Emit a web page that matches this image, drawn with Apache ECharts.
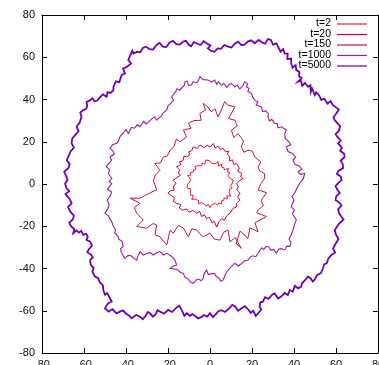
<!DOCTYPE html>
<html><head><meta charset="utf-8">
<script src="https://cdn.jsdelivr.net/npm/echarts@6/dist/echarts.min.js"></script>
<style>html,body{margin:0;padding:0;background:#fff}#c{width:379px;height:365px}</style>
</head><body><div id="c"></div>
<script>
const seriesNames = ['t=2','t=20','t=150','t=1000','t=5000'];
const seriesColors = ['#f41838','#c80040','#c01060','#a01ca4','#7000b4'];

const t2Pts = [[10.5,0],[9.7,0.8],[11.0,1.9],[9.6,2.6],[9.4,3.4],[8.6,4.0],[9.4,5.4],[8.2,5.7],[8.8,7.4],[6.8,6.8],[6.6,7.8],[5.6,8.0],[5.5,9.4],[4.0,8.5],[3.9,10.6],[2.6,9.6],[1.8,10.2],[0.8,9.7],[0,10.9],[-0.9,10.1],[-2.0,11.4],[-2.5,9.3],[-3.6,10.0],[-4.0,8.6],[-5.1,8.7],[-5.7,8.1],[-7.1,8.4],[-6.8,6.8],[-7.9,6.6],[-8.0,5.6],[-9.4,5.4],[-9.1,4.2],[-10.7,3.9],[-9.2,2.5],[-10.0,1.8],[-9.7,0.8],[-10.7,0],[-9.9,-0.9],[-10.9,-1.9],[-9.1,-2.4],[-9.4,-3.4],[-8.9,-4.1],[-9.2,-5.3],[-7.9,-5.5],[-8.7,-7.3],[-7.1,-7.1],[-6.7,-8.0],[-5.5,-7.8],[-5.5,-9.4],[-4.1,-8.8],[-3.5,-9.5],[-2.6,-9.6],[-1.9,-10.6],[-0.8,-9.6],[0,-11.2],[0.9,-9.8],[1.8,-10.1],[2.5,-9.2],[3.6,-10.0],[4.2,-9.0],[5.5,-9.5],[5.6,-7.9],[6.6,-7.8],[6.6,-6.6],[8.3,-7.0],[8.0,-5.6],[9.9,-5.7],[9.1,-4.2],[9.9,-3.6],[9.3,-2.5],[10.6,-1.9],[9.8,-0.9],[10.5,0]];

const t20Pts = [[14.3,1.8],[15.8,2.6],[14.6,3.4],[15.1,5.0],[13.2,6.0],[14.0,7.5],[12.7,9.7],[11.2,9.3],[10.8,11.4],[9.2,11.0],[9.5,12.8],[8.3,14.2],[9.0,15.6],[7.4,15.2],[6.2,17.0],[5.0,16.2],[3.8,17.9],[2.5,17.0],[1.6,19.2],[0.2,17.6],[-1.5,18.3],[-2.8,17.2],[-4.8,18.4],[-6.1,16.8],[-8.0,17.6],[-8.6,15.8],[-10.2,15.2],[-9.5,13.9],[-11.1,12.8],[-12.4,13.2],[-12.9,11.0],[-14.6,10.5],[-13.8,9.2],[-15.9,8.1],[-14.4,6.6],[-15.2,5.2],[-14.0,4.2],[-15.8,3.0],[-17.6,1.8],[-16.2,0.4],[-17.5,-1.4],[-17.0,-2.9],[-19.0,-3.2],[-20.0,-4.4],[-18.2,-5.6],[-17.0,-6.5],[-17.4,-8.2],[-15.9,-9.1],[-14.0,-9.8],[-14.6,-11.4],[-12.9,-12.4],[-11.2,-11.8],[-10.0,-13.4],[-8.2,-12.6],[-6.3,-13.8],[-4.9,-13.0],[-4.0,-15.4],[-2.6,-14.6],[-1.6,-16.3],[-0.2,-15.8],[1.0,-18.5],[2.0,-17.6],[3.2,-20.4],[4.2,-18.0],[5.6,-16.3],[6.8,-17.2],[8.0,-15.0],[9.5,-13.8],[10.4,-14.6],[11.0,-11.5],[12.4,-11.0],[12.7,-9.1],[14.3,-7.7],[13.2,-6.2],[14.3,-4.4],[12.7,-2.8],[13.5,-1.4],[12.7,0.2],[14.3,1.8]];

const t150Pts = [[24.4,0.4],[26.0,2.6],[26,5],[23.6,6.2],[22.9,8.1],[24.2,10.4],[21.3,12.8],[20.2,15.6],[18.1,16],[16.2,15.0],[14.9,17.6],[16.0,20.4],[13.3,23.9],[11.4,22.0],[10.2,25.5],[13.0,27.6],[11.8,30.2],[8.8,31.0],[10.2,33.4],[11.8,36.5],[8.6,37.3],[7.0,39.0],[5.4,35],[3.8,31.8],[2.4,35.6],[0.6,34.2],[-1,36.5],[-3.2,38.2],[-2.2,35.0],[-4.8,33.4],[-4.2,30.2],[-7.6,30.0],[-10.3,28.7],[-9.0,26.4],[-12.7,25.5],[-11.1,22.3],[-14.3,20],[-16.0,21.2],[-17.2,17.6],[-19,16],[-20.4,13.2],[-22.2,12.8],[-23.6,10.0],[-26.2,9.7],[-23.8,6.5],[-26.0,4.2],[-27,1.7],[-25.4,-2.8],[-28.6,-4.2],[-33.3,-6.7],[-38.1,-6.7],[-33.3,-9.1],[-36.0,-11.2],[-34.9,-13.8],[-31.8,-17],[-34.9,-20.1],[-30.2,-20.9],[-27,-18.7],[-25.4,-19.4],[-26.2,-24.1],[-23.8,-25],[-20.6,-28.9],[-19,-21.9],[-17.5,-23.3],[-15.0,-19.6],[-12.7,-20.9],[-10.3,-24.9],[-8.6,-21.2],[-6.3,-21.8],[-4.8,-23.6],[-3.2,-24.9],[0,-23.3],[2.0,-26.0],[4.8,-26.6],[6.4,-23.0],[8.6,-21.8],[9.5,-27.4],[12.0,-25.4],[14.9,-30.5],[12.5,-28.1],[14.3,-22.3],[18.1,-25.7],[19,-20.7],[22.9,-22.6],[21.4,-18.4],[25.2,-16.3],[26.8,-15.4],[22.2,-13.6],[22.9,-12.3],[25.4,-10.2],[24.4,-7.6],[27,-4.1],[22.9,-2.8],[24.4,0.4]];

const t1000Pts = [[42.7,0.4],[44.4,2.4],[45.1,5],[43.2,4.6],[41.9,5.7],[43.8,7.0],[42.6,8.4],[40.4,9.4],[39.5,11.3],[40.8,12.8],[39.0,14.6],[37.2,15.4],[36.3,17.6],[38.4,18.6],[37.4,20.2],[35.8,21.6],[35.6,23.9],[36.4,25.6],[34,27.1],[32.4,26.6],[32.0,28.6],[30.8,28.7],[29.4,30.6],[28.4,29.8],[27.6,31.8],[27.8,33.4],[26.4,34.6],[25.0,34.4],[24.4,36.5],[22.0,37.4],[22.8,38.8],[21.3,39.7],[20.4,41.0],[19.7,42.9],[18.0,43.8],[18.6,45.2],[17.3,46],[18.0,47.4],[16.5,48.4],[15.6,46.4],[14.2,45.0],[13.0,46.8],[11.8,46],[10.2,47.6],[9.0,47.0],[8.0,45.8],[6.6,47.6],[5.4,46.8],[4.0,48.4],[3.2,47.2],[2.2,49.2],[0.6,48.2],[-1,49.2],[-1.6,50],[-3.2,49.4],[-4.8,50.8],[-5.4,49.2],[-6.2,48.0],[-8,48.4],[-8.8,47.0],[-10.2,46.6],[-10.8,48.6],[-11.9,48.4],[-12.2,46.8],[-13.0,46.0],[-14.3,44.5],[-15.8,45.0],[-16.4,43.6],[-18.2,41.3],[-17.4,39.6],[-18.8,38.0],[-20.0,37.0],[-20.6,35],[-22.4,33.6],[-23.0,32.4],[-25.4,30.2],[-26.4,31.8],[-28.0,30.6],[-29.4,29.2],[-30.4,28.4],[-31.6,29.6],[-33.3,27.1],[-34.6,28.0],[-36.0,26.4],[-37.4,26.8],[-38.9,23.9],[-40.0,25.8],[-41.0,24.6],[-42.9,22.3],[-43.4,20.8],[-44.2,19.4],[-46.4,18.6],[-47.6,16.8],[-46.2,15.6],[-45.6,14.2],[-47.6,12.8],[-46.8,11.3],[-48.2,9.8],[-49.4,8.2],[-47.8,6.8],[-48.4,5],[-46.8,2.6],[-48.0,1.2],[-46.8,0.2],[-48.8,-2.4],[-46.8,-3.8],[-47.6,-5.9],[-49.0,-7.6],[-48.0,-9.6],[-48.6,-11.6],[-50,-13.8],[-48.2,-15.2],[-47.8,-16.4],[-46.8,-17.8],[-46.2,-19.6],[-45.0,-21.8],[-45.4,-23.2],[-43.7,-24.9],[-43.4,-26.2],[-42.0,-27.0],[-41.3,-29.6],[-42.6,-30.6],[-42.2,-32.4],[-40.5,-35.2],[-39.0,-33.8],[-37.6,-34.0],[-36.2,-35.2],[-34.9,-36],[-34.2,-33.8],[-33.3,-32],[-31.8,-33.6],[-30.4,-33.0],[-28.6,-32.4],[-27,-33.6],[-25.4,-32.6],[-23.8,-32.0],[-22.2,-33.6],[-20.6,-32.8],[-18.4,-34.2],[-17.6,-35.0],[-16.7,-36],[-15.9,-38.3],[-17.4,-38.8],[-19,-39.9],[-17.0,-40.2],[-15.4,-40.6],[-14.2,-41.8],[-12.7,-42.3],[-12.0,-44.0],[-10.6,-44.8],[-9.4,-46.4],[-7.9,-47],[-6.6,-45.4],[-5.4,-45.0],[-4.2,-45.8],[-3.2,-44.6],[-2.8,-42.4],[-1.6,-40.7],[-0.8,-42.8],[0,-42.3],[2.2,-42.3],[3.0,-43.8],[4.0,-44.2],[5.2,-46.0],[6.2,-45.5],[7.4,-42.6],[8.6,-40.7],[10.0,-39.4],[10.8,-40.0],[11.8,-37.5],[13.4,-38.8],[14.6,-38.0],[16.4,-36.4],[18.1,-36],[19.2,-34.6],[20.2,-34.0],[21.8,-34.4],[22.9,-32.8],[24.6,-30.2],[25.6,-31.0],[26.8,-29.6],[28.0,-29.8],[29.0,-31.4],[30.4,-31.0],[31.6,-32.8],[32.8,-30.8],[33.8,-30.6],[35.6,-31.2],[36.6,-29.4],[38,-29.6],[38.6,-27.6],[37.6,-26.0],[38.8,-23.8],[39.5,-21.8],[40.2,-19.4],[41.1,-17],[40.0,-15.4],[39.2,-14.0],[40.2,-12.4],[38.7,-10.7],[39.4,-9.0],[40.0,-7.6],[39.0,-5.8],[40.3,-4.4],[41.4,-2.0],[42.7,0.4]];

const t5000Pts = [[61,0.4],[62.6,1.8],[62.3,3.5],[60.4,4.8],[61.2,6.2],[63.4,7.6],[63.2,9.4],[62.2,11.0],[64.1,12.8],[63.8,14.4],[62.0,15.6],[62.8,17.2],[61,19.2],[62.2,20.6],[60.6,22.4],[59.8,23.6],[61.3,25.0],[62.0,27.4],[59.4,30.2],[58.8,31.6],[60.2,33.5],[61.4,35.2],[58.6,37.3],[57.4,39.2],[56.0,38.0],[54.4,40.4],[53,39.7],[52.0,41.9],[51.2,41.6],[50.6,43.4],[49.9,42.1],[48.6,45.2],[48.0,43.6],[47.8,46.8],[46.7,46],[45.2,47.9],[44.0,46.5],[43.2,49.0],[41.9,48.4],[43.6,50.2],[42.4,51.0],[42.6,53.0],[41.1,53.9],[40.8,56.2],[39.3,55.0],[38.7,57.1],[38.6,59.4],[36.8,59.2],[37.0,61.6],[35.6,61.8],[34.8,63.8],[33.6,62.6],[32.4,65],[31.6,66.6],[30.0,66.0],[29.0,68.2],[27.6,68.6],[26.2,66.4],[24.8,67.0],[23.2,68.2],[21.3,66.6],[19.6,68.0],[18.0,67.4],[16.4,66.0],[14.9,65.8],[13.4,67.4],[11.8,66.4],[10.2,64.6],[8.6,65],[6.8,65.8],[5.2,64.0],[3.6,64.2],[2.2,62.6],[0.6,63.0],[-1,64.2],[0.2,65.6],[-1.6,66.6],[-3.0,67.6],[-4.5,65.8],[-6.0,66.4],[-7.6,67.2],[-9.0,65.2],[-10.2,66.0],[-11.4,67.8],[-12.7,67.4],[-14.4,66.0],[-16.0,66.2],[-17.6,67.8],[-19.2,67.0],[-20.8,64.8],[-22.4,65.0],[-24.0,66.8],[-25.4,65.8],[-27.2,63.6],[-28.8,63.8],[-30.4,65.0],[-32.0,64.4],[-33.2,62.4],[-34.6,62.6],[-36.5,61.8],[-37.0,63.0],[-38.9,58.7],[-37.6,57.0],[-39.4,55.6],[-41.4,54.6],[-40.5,52.4],[-42.0,51.6],[-42.6,50.0],[-43.2,48.2],[-44.0,47.4],[-44.8,48.6],[-46,46],[-46.0,44.4],[-47.2,43.2],[-48.8,43.4],[-49.2,41.3],[-51.0,42.4],[-52.6,40.8],[-53.8,39.4],[-55.0,39.2],[-56.0,40.6],[-57.1,39.7],[-58.8,38.8],[-58.4,37.0],[-59.0,35.6],[-60.3,35],[-61.8,33.8],[-61.2,31.8],[-62.0,29.2],[-63.5,27.1],[-62.6,25.0],[-64.0,23.4],[-65.6,21.6],[-65.9,19.2],[-64.8,17.2],[-66.4,15.4],[-67.2,13.6],[-68.2,11.3],[-66.8,9.4],[-67.4,7.6],[-69.4,5.8],[-68.6,4.0],[-67.8,2.0],[-69,0.2],[-68.4,-1.8],[-67.0,-3.4],[-68.8,-4.8],[-67.6,-6.2],[-66.6,-7.6],[-65.9,-9.2],[-67.6,-11.0],[-66.6,-13.0],[-64.8,-15.0],[-65.4,-16.8],[-67.0,-18.4],[-66.2,-20.0],[-64.6,-21.4],[-65.1,-23.3],[-63.6,-22.0],[-62.4,-23.0],[-61.4,-22.2],[-60.3,-24.1],[-59.0,-23.6],[-58.2,-25.0],[-58.8,-26.4],[-57.1,-27.3],[-56.2,-29.2],[-57.8,-31.0],[-58.4,-32.4],[-56.6,-33.4],[-55.8,-34.8],[-57.1,-36],[-56.8,-38.2],[-55.4,-39.8],[-56.0,-41.6],[-54.8,-43.8],[-53.2,-44.6],[-52.6,-46.4],[-51.0,-48.0],[-50.8,-50.2],[-50.0,-52.4],[-49.0,-51.6],[-47.6,-54.1],[-46.8,-55.6],[-48.4,-56.4],[-49.2,-57.4],[-50,-58.9],[-48.2,-60.4],[-46.4,-59.2],[-44.6,-61.2],[-42.9,-60.4],[-41.4,-59.8],[-40.0,-61.4],[-38.6,-62.2],[-37.3,-63.6],[-35.2,-62.0],[-33.3,-62.8],[-32.0,-64.0],[-30.8,-62.6],[-29.6,-60.6],[-28.6,-61.2],[-27.2,-62.8],[-26.0,-61.8],[-25.0,-59.8],[-23.8,-60.4],[-21.8,-61.4],[-20.0,-59.6],[-18.0,-60.6],[-15.9,-58.4],[-14.6,-57.6],[-13.4,-59.8],[-12.2,-62.4],[-11.1,-61.2],[-9.6,-62.4],[-8.4,-61.6],[-7.0,-62.6],[-5.6,-63.6],[-4.2,-63.0],[-2.8,-62.0],[-1.4,-62.8],[0,-61.2],[1.4,-63.0],[2.6,-61.8],[4.0,-60.2],[5.4,-59.7],[7.2,-60.6],[9.0,-59.0],[10.6,-57.2],[12.0,-58.0],[13.4,-60.0],[14.9,-58.9],[16.6,-57.8],[18.2,-59.4],[19.4,-61.0],[20.6,-60.0],[21.8,-62.4],[22.9,-61.2],[24.4,-59.4],[23.6,-58.0],[24.0,-56.0],[25.2,-55.7],[26.2,-53.6],[27.8,-54.4],[29.6,-52.4],[30.8,-51.8],[32.4,-54.2],[34.0,-53.2],[35.6,-51.6],[37.1,-52.6],[38.0,-50.2],[39.4,-51.0],[40.4,-48.2],[41.9,-49.4],[43.4,-48.6],[43.8,-47.0],[45.6,-45.2],[46.7,-43.8],[47.8,-44.6],[49,-46.2],[50.0,-45.0],[51.0,-43.2],[52.8,-42.2],[53.8,-39.9],[54.4,-38.0],[55.6,-37.4],[56.4,-35.2],[57.8,-33.6],[59.6,-32.4],[58.6,-30.6],[59.4,-29.0],[60.1,-28.1],[61.2,-26.0],[60.0,-24.0],[59.4,-21.8],[60.6,-20.0],[61.4,-18.8],[63.6,-16.8],[62.5,-15.4],[61.4,-13.6],[61.0,-12.0],[62.6,-10.2],[61.6,-8.8],[59.8,-7.6],[60.1,-5.9],[61.8,-4.2],[60.6,-2.6],[59.8,-1.0],[61,0.4]];

const allPts = [t2Pts, t20Pts, t150Pts, t1000Pts, t5000Pts];
const lineWidths = [1, 1, 1, 1.1, 1.8];

const axisMin = -80, axisMax = 80, axisStep = 20;
const FONT = '"Liberation Sans", Arial, sans-serif';

const chart = echarts.init(document.getElementById('c'), null, {renderer: 'canvas'});
const axisCommon = {
  type: 'value', min: axisMin, max: axisMax, interval: axisStep,
  axisLine: {show: true, onZero: false, lineStyle: {color: '#000', width: 1}},
  axisTick: {show: true, inside: true, length: 5, lineStyle: {color: '#000', width: 1}},
  splitLine: {show: false},
};
const legendGraphics = [];
seriesNames.forEach((n, i) => {
  const yc = 24 + i * 10.5;
  legendGraphics.push({type: 'text', right: 379 - 331, top: yc - 6,
    style: {text: n, font: '10.5px ' + FONT, fill: '#000', textAlign: 'right'}});
  legendGraphics.push({type: 'line', shape: {x1: 337, y1: yc, x2: 367, y2: yc},
    style: {stroke: seriesColors[i], lineWidth: 1.2}});
});

chart.setOption({
  animation: false,
  backgroundColor: '#fff',
  grid: {left: 42, right: 1, top: 15, bottom: 12, containLabel: false, outerBoundsMode: 'none'},
  xAxis: [
    Object.assign({}, axisCommon, {position: 'bottom',
      axisLabel: {show: true, margin: 6, color: '#111', fontSize: 11, fontFamily: FONT}}),
    Object.assign({}, axisCommon, {position: 'top', axisLabel: {show: false}})
  ],
  yAxis: [
    Object.assign({}, axisCommon, {position: 'left',
      axisLabel: {show: true, margin: 7, color: '#111', fontSize: 11, fontFamily: FONT}}),
    Object.assign({}, axisCommon, {position: 'right', axisLabel: {show: false}})
  ],
  series: seriesNames.map((n, i) => ({
    name: n, type: 'line', data: allPts[i], showSymbol: false, symbol: 'none',
    xAxisIndex: 0, yAxisIndex: 0, clip: true,
    lineStyle: {color: seriesColors[i], width: lineWidths[i], join: 'miter'}, z: 2
  })),
  graphic: legendGraphics
});
</script></body></html>
